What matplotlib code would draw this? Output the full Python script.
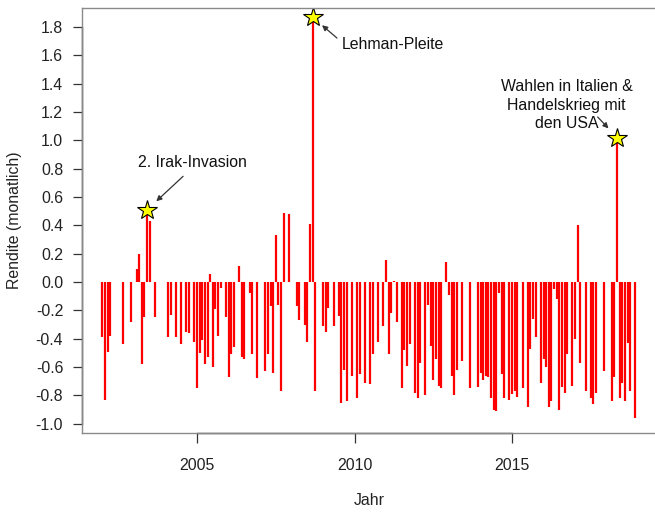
import numpy as np
import matplotlib
matplotlib.use('Agg')
import matplotlib.pyplot as plt

plt.rcParams['font.family'] = ['Liberation Sans', 'DejaVu Sans']

# Monat seit Jan 2002 (0 = Jan 2002) und monatliche Rendite
monat = [0, 1, 2, 3, 8, 11, 13, 14, 15, 16, 17, 18, 20, 25, 26, 28, 30, 32,
         33, 35, 36, 37, 38, 39, 40, 41, 42, 43, 44, 45, 47, 48, 49, 50, 52,
         53, 54, 56, 57, 59, 62, 63, 64, 65, 66, 67, 68, 69, 71, 74, 75, 77,
         78, 79, 80, 81, 84, 85, 86, 88, 90, 91, 92, 93, 95, 97, 98, 100,
         102, 103, 105, 107, 108, 109, 110, 111, 112, 114, 115, 116, 117,
         119, 120, 121, 123, 124, 125, 126, 127, 128, 129, 131, 132, 133,
         134, 135, 137, 140, 143, 144, 145, 146, 147, 148, 149, 150, 151,
         152, 153, 155, 156, 157, 158, 160, 162, 163, 164, 165, 167, 168,
         169, 170, 171, 172, 173, 174, 175, 176, 177, 179, 180, 181, 182,
         184, 186, 187, 188, 191, 194, 195, 196, 197, 198, 199, 200, 201, 203]
rendite = [-0.39, -0.83, -0.49, -0.38, -0.44, -0.28, 0.09, 0.20, -0.58, -0.25,
           0.51, 0.43, -0.25, -0.39, -0.23, -0.39, -0.44, -0.35,
           -0.36, -0.42, -0.75, -0.50, -0.41, -0.58, -0.53, 0.06, -0.60, -0.19,
           -0.38, -0.04, -0.25, -0.67, -0.51, -0.46, 0.11,
           -0.53, -0.54, -0.08, -0.51, -0.68, -0.63, -0.51, -0.17, -0.64, 0.33,
           -0.16, -0.77, 0.49, 0.48, -0.17, -0.27, -0.30,
           -0.42, 0.41, 1.87, -0.77, -0.31, -0.35, -0.18, -0.31, -0.24, -0.85,
           -0.62, -0.84, -0.66, -0.82, -0.65, -0.71,
           -0.72, -0.51, -0.42, -0.31, 0.155, -0.51, -0.22, 0.01, -0.28, -0.75,
           -0.48, -0.59, -0.44,
           -0.78, -0.82, -0.57, -0.80, -0.16, -0.45, -0.69, -0.54, -0.73, -0.75,
           0.14, -0.09, -0.66,
           -0.80, -0.62, -0.56, -0.75, -0.74, -0.64, -0.69, -0.66, -0.67, -0.82,
           -0.90, -0.91, -0.08,
           -0.65, -0.82, -0.83, -0.79, -0.77, -0.81, -0.75, -0.88, -0.47, -0.26,
           -0.39, -0.71, -0.54,
           -0.60, -0.88, -0.84, -0.05, -0.12, -0.90, -0.74, -0.78, -0.51, -0.73,
           -0.40, 0.40, -0.57,
           -0.77, -0.82, -0.86, -0.78, -0.63, -0.84, -0.67, 1.02, -0.82, -0.71,
           -0.84, -0.43, -0.77, -0.96]

# Ereignisse (Monatsindex, Beschriftung)
ereignis_monat = [17, 80, 196]
ereignis_text = ['2. Irak-Invasion', 'Lehman-Pleite',
                 'Wahlen in Italien &\nHandelskrieg mit\nden USA']

y_ticks = [-1.0, -0.8, -0.6, -0.4, -0.2, 0.0, 0.2, 0.4, 0.6, 0.8,
           1.0, 1.2, 1.4, 1.6, 1.8]

jahr = 2002 + np.array(monat) / 12.0
rendite = np.array(rendite)

fig = plt.figure(figsize=(6.55, 5.12), dpi=100)
ax = fig.add_axes([82 / 655, (512 - 432.7) / 512, 575 / 655, 424.7 / 512])

ax.vlines(jahr, 0, rendite, colors='#ff0000', linewidth=1.6)

# Sterne an den Ereignissen
ex = 2002 + np.array(ereignis_monat) / 12.0
ey = [rendite[monat.index(m)] for m in ereignis_monat]
ax.plot(ex, ey, linestyle='none', marker='*', markersize=15,
        markerfacecolor='#ffff00', markeredgecolor='black', markeredgewidth=0.8)

# Textpositionen relativ zum Stern (Punkte): Text und Pfeilende
txt_off = [(32.4, 33.8), (57.9, -19.4), (-36.4, 23.4)]
tail_off = [(25.9, 24.1), (17.6, -15.1), (-14.0, 14.8)]
for i in range(3):
    ax.annotate(ereignis_text[i], xy=(ex[i], ey[i]), xytext=txt_off[i],
                textcoords='offset points', ha='center', va='center',
                fontsize=11.4, color='#111111', linespacing=1.3)
    ax.annotate('', xy=(ex[i], ey[i]), xytext=tail_off[i],
                textcoords='offset points',
                arrowprops=dict(arrowstyle='-|>', color='#333333', lw=0.9,
                                mutation_scale=8,
                                shrinkA=0, shrinkB=9))

ax.set_xlim(2001.35, 2019.60)
ax.set_ylim(-1.063, 1.934)

ax.set_xticks([2005, 2010, 2015])
ax.set_yticks(y_ticks)
ax.set_yticklabels(['%.1f' % v for v in y_ticks])
ax.tick_params(axis='x', length=7.5, width=0.9, pad=11, labelsize=11.4,
               color='#333333', labelcolor='#222222')
ax.tick_params(axis='y', length=6.5, width=0.9, pad=7, labelsize=11.4,
               color='#333333', labelcolor='#222222')

for s in ax.spines.values():
    s.set_color('#8a8a8a')
    s.set_linewidth(1.0)

# dunklere Achsenlinien zwischen erstem und letztem Tick
ax.plot([2005, 2015], [0, 0], color='#333333', lw=1.0,
        transform=ax.get_xaxis_transform(), clip_on=False)
ax.plot([0, 0], [-1.0, 1.8], color='#333333', lw=1.0,
        transform=ax.get_yaxis_transform(), clip_on=False)

ax.set_xlabel('Jahr', fontsize=11.4, color='#222222', labelpad=14)
ax.set_ylabel('Rendite (monatlich)', fontsize=11.4, color='#222222', labelpad=10)

fig.savefig('out.png', dpi=100)
